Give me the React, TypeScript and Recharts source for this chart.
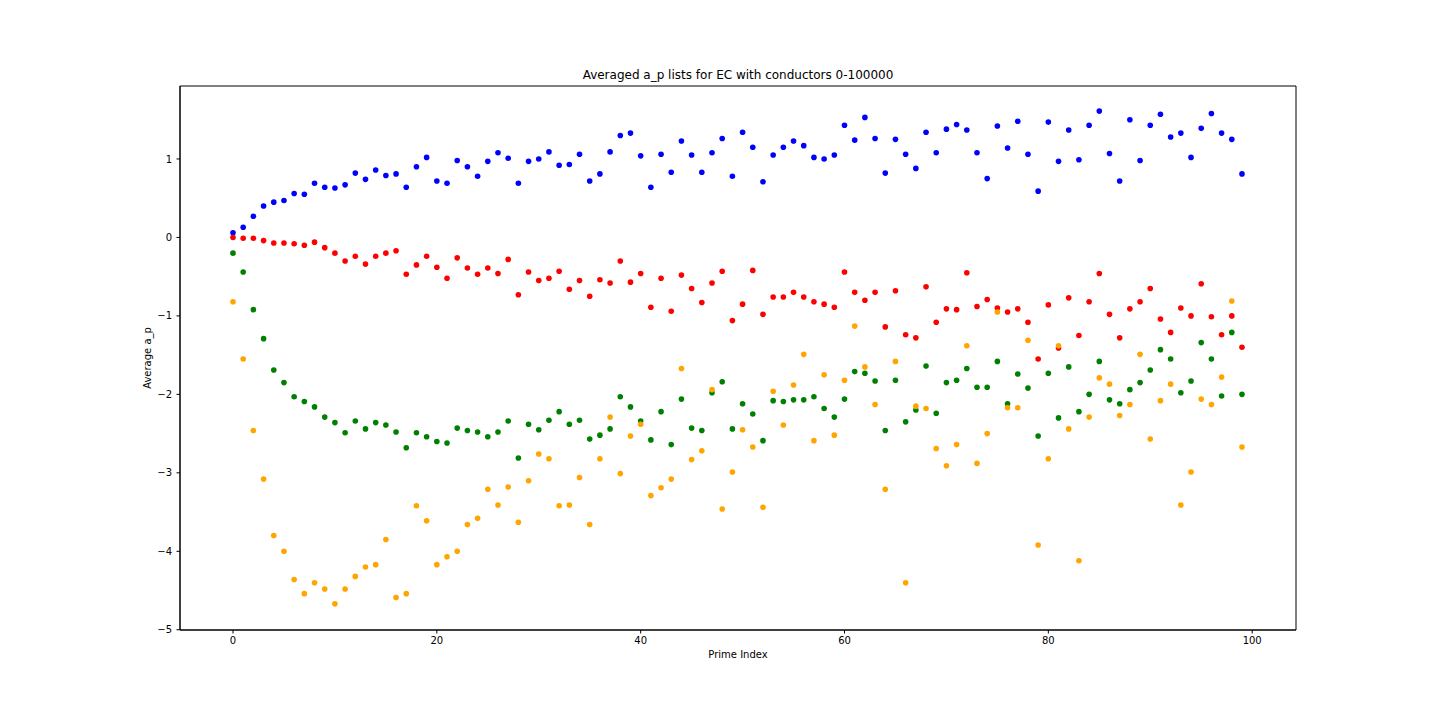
import { ScatterChart, Scatter, XAxis, YAxis, ReferenceArea } from 'recharts';

// averaged a_p per prime index
const blueVals = [
  0.06, 0.13, 0.27, 0.4, 0.45, 0.47, 0.56, 0.55, 0.69, 0.64,
  0.63, 0.67, 0.82, 0.74, 0.86, 0.79, 0.81, 0.64, 0.9, 1.02,
  0.72, 0.69, 0.98, 0.9, 0.78, 0.97, 1.08, 1.01, 0.69, 0.97,
  1.0, 1.09, 0.92, 0.93, 1.06, 0.72, 0.81, 1.09, 1.3, 1.33,
  1.04, 0.64, 1.06, 0.83, 1.23, 1.05, 0.83, 1.08, 1.26, 0.78,
  1.34, 1.15, 0.71, 1.05, 1.15, 1.23, 1.17, 1.02, 1.0, 1.05,
  1.43, 1.24, 1.53, 1.26, 0.82, 1.25, 1.06, 0.88, 1.34, 1.08,
  1.38, 1.44, 1.37, 1.08, 0.75, 1.42, 1.14, 1.48, 1.06, 0.59,
  1.47, 0.97, 1.37, 0.99, 1.43, 1.61, 1.07, 0.72, 1.5, 0.98,
  1.43, 1.57, 1.28, 1.33, 1.02, 1.39, 1.58, 1.33, 1.25, 0.81,
];

const redVals = [
  0.0, -0.01, -0.01, -0.04, -0.07, -0.07, -0.08, -0.1, -0.06, -0.13,
  -0.2, -0.3, -0.24, -0.34, -0.24, -0.2, -0.17, -0.47, -0.35, -0.24,
  -0.38, -0.52, -0.26, -0.39, -0.47, -0.39, -0.46, -0.28, -0.73, -0.44,
  -0.55, -0.52, -0.43, -0.66, -0.55, -0.75, -0.54, -0.58, -0.3, -0.57,
  -0.46, -0.89, -0.52, -0.94, -0.48, -0.65, -0.83, -0.58, -0.43, -1.06,
  -0.85, -0.42, -0.98, -0.76, -0.76, -0.7, -0.76, -0.82, -0.85, -0.89,
  -0.44, -0.7, -0.8, -0.7, -1.14, -0.68, -1.24, -1.28, -0.63, -1.08,
  -0.91, -0.92, -0.45, -0.88, -0.79, -0.9, -0.95, -0.91, -1.08, -1.55,
  -0.86, -1.41, -0.77, -1.25, -0.82, -0.46, -0.98, -1.28, -0.91, -0.82,
  -0.65, -1.04, -1.21, -0.9, -1.0, -0.59, -1.01, -1.24, -1.0, -1.4,
];

const greenVals = [
  -0.2, -0.44, -0.92, -1.29, -1.69, -1.85, -2.03, -2.09, -2.16, -2.29,
  -2.36, -2.49, -2.34, -2.44, -2.36, -2.39, -2.48, -2.68, -2.49, -2.54,
  -2.6, -2.62, -2.43, -2.46, -2.48, -2.54, -2.48, -2.34, -2.81, -2.38,
  -2.45, -2.33, -2.22, -2.38, -2.33, -2.57, -2.52, -2.44, -2.03, -2.16,
  -2.34, -2.58, -2.22, -2.64, -2.06, -2.43, -2.46, -1.98, -1.84, -2.44,
  -2.12, -2.25, -2.59, -2.08, -2.09, -2.07, -2.07, -2.03, -2.18, -2.29,
  -2.06, -1.71, -1.73, -1.83, -2.46, -1.82, -2.35, -2.2, -1.64, -2.24,
  -1.85, -1.82, -1.67, -1.91, -1.91, -1.58, -2.12, -1.74, -1.92, -2.53,
  -1.73, -2.3, -1.65, -2.22, -2.0, -1.58, -2.07, -2.12, -1.94, -1.85,
  -1.69, -1.43, -1.55, -1.98, -1.83, -1.34, -1.55, -2.02, -1.21, -2.0,
];

const orangeVals = [
  -0.82, -1.55, -2.46, -3.08, -3.8, -4.0, -4.36, -4.54, -4.4, -4.48,
  -4.67, -4.48, -4.32, -4.2, -4.17, -3.85, -4.59, -4.54, -3.42, -3.61,
  -4.17, -4.07, -4.0, -3.66, -3.58, -3.21, -3.41, -3.18, -3.63, -3.1,
  -2.76, -2.82, -3.42, -3.41, -3.06, -3.66, -2.82, -2.29, -3.01, -2.53,
  -2.38, -3.29, -3.19, -3.08, -1.67, -2.83, -2.72, -1.94, -3.46, -2.99,
  -2.45, -2.67, -3.44, -1.96, -2.39, -1.88, -1.49, -2.59, -1.75, -2.52,
  -1.82, -1.13, -1.65, -2.13, -3.21, -1.58, -4.4, -2.15, -2.18, -2.69,
  -2.91, -2.64, -1.38, -2.88, -2.5, -0.95, -2.17, -2.17, -1.31, -3.92,
  -2.82, -1.38, -2.44, -4.12, -2.29, -1.79, -1.87, -2.27, -2.13, -1.49,
  -2.57, -2.08, -1.87, -3.41, -2.99, -2.06, -2.13, -1.78, -0.81, -2.67,
];

const xTicks = [0, 20, 40, 60, 80, 100];
const yTicks = [-5, -4, -3, -2, -1, 0, 1];

const SERIES = [
  { name: 'blue', values: blueVals, color: '#0000ff' },
  { name: 'red', values: redVals, color: '#ff0000' },
  { name: 'green', values: greenVals, color: '#008000' },
  { name: 'orange', values: orangeVals, color: '#ffa500' },
];

const FONT = '"DejaVu Sans", sans-serif';
const X_DOMAIN: [number, number] = [-5.2, 104.3];
const Y_DOMAIN: [number, number] = [-5.003, 1.93];

const fmt = (v: number) => String(v).replace('-', '\u2212');

export default function App() {
  return (
    <div style={{ position: 'absolute', left: 0, top: 0, width: 1440, height: 720, background: '#fff', fontFamily: FONT }}>
      <div style={{ position: 'absolute', left: 180, width: 1116, top: 68, lineHeight: '14px', textAlign: 'center', fontSize: 12, color: '#000' }}>
        Averaged a_p lists for EC with conductors 0-100000
      </div>
      <ScatterChart width={1440} height={720} margin={{ top: 86, right: 144, bottom: 60, left: 120 }}>
        <XAxis
          type="number"
          dataKey="x"
          domain={X_DOMAIN}
          ticks={xTicks}
          height={30}
          tickSize={3.5}
          tickMargin={3.5}
          stroke="#000"
          tick={{ fill: '#000', fontSize: 10, fontFamily: FONT }}
          allowDataOverflow
        />
        <YAxis
          type="number"
          dataKey="y"
          domain={Y_DOMAIN}
          ticks={yTicks}
          width={60}
          tickSize={3.5}
          tickMargin={4.5}
          stroke="#000"
          tick={{ fill: '#000', fontSize: 10, fontFamily: FONT }}
          tickFormatter={fmt}
          allowDataOverflow
        />
        <ReferenceArea x1={X_DOMAIN[0]} x2={X_DOMAIN[1]} y1={Y_DOMAIN[0]} y2={Y_DOMAIN[1]} fill="#fff" fillOpacity={0} stroke="#000" strokeWidth={1} />
        {SERIES.map(s => (
          <Scatter
            key={s.name}
            name={s.name}
            data={s.values.map((y, x) => ({ x, y }))}
            fill={s.color}
            isAnimationActive={false}
            shape={(p: any) => <circle cx={p.cx} cy={p.cy} r={2.8} fill={s.color} />}
          />
        ))}
      </ScatterChart>
      <div style={{ position: 'absolute', left: 180, width: 1116, top: 649, lineHeight: '12px', textAlign: 'center', fontSize: 10, color: '#000' }}>
        Prime Index
      </div>
      <div
        style={{
          position: 'absolute', left: 148, top: 358, fontSize: 10, lineHeight: '12px', color: '#000', whiteSpace: 'nowrap',
          transform: 'translate(-50%, -50%) rotate(-90deg)',
        }}
      >
        Average a_p
      </div>
    </div>
  );
}
